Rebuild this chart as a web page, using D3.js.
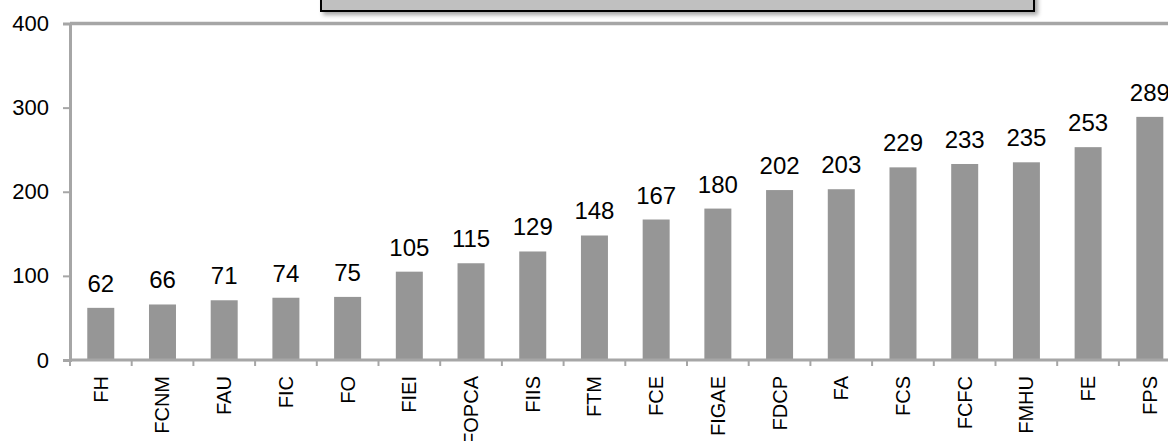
<!DOCTYPE html>
<html>
<head>
<meta charset="utf-8">
<script src="https://cdn.jsdelivr.net/npm/d3@7"></script>
<style>
  body { margin: 0; background: #fff; }
  svg { display: block; font-family: "Liberation Sans", Arial, sans-serif; }
</style>
</head>
<body>
<div id="chart-area"></div>
<script>
// data
const categories = ["FH", "FCNM", "FAU", "FIC", "FO", "FIEI", "FOPCA", "FIIS", "FTM", "FCE",
  "FIGAE", "FDCP", "FA", "FCS", "FCFC", "FMHU", "FE", "FPS"]
const values = [62, 66, 71, 74, 75, 105, 115, 129, 148, 167, 180, 202, 203, 229, 233, 235, 253, 289]
const yTicks = [0, 100, 200, 300, 400]

const W = 1168, H = 441
const LEFT = 70, TOP = 23.5, BOTTOM = 360
const STEP = 61.7

const svg = d3.select("#chart-area").append("svg")
  .attr("width", W)
  .attr("height", H)

const defs = svg.append("defs")
const shadow = defs.append("filter").attr("id", "shadow")
  .attr("x", "-5%").attr("y", "-50%").attr("width", "110%").attr("height", "250%")
shadow.append("feDropShadow")
  .attr("dx", 3).attr("dy", 3).attr("stdDeviation", 2)
  .attr("flood-color", "#000").attr("flood-opacity", 0.35)

// scales
const x = d3.scaleBand()
  .domain(categories)
  .range([LEFT, LEFT + STEP * categories.length])
  .paddingInner(0.5625)
  .paddingOuter(0.28)
const y = d3.scaleLinear().domain([0, 400]).range([BOTTOM, TOP])

// plot border (top)
svg.append("line")
  .attr("x1", LEFT).attr("x2", W)
  .attr("y1", TOP).attr("y2", TOP)
  .attr("stroke", "#a6a6a6").attr("stroke-width", 3.5)

// bars
svg.selectAll(".bar")
  .data(values)
  .enter().append("rect")
  .attr("class", "bar")
  .attr("x", (d, i) => x(categories[i]))
  .attr("width", x.bandwidth())
  .attr("y", d => y(d))
  .attr("height", d => y(0) - y(d))
  .attr("fill", "#969696")

// value labels
svg.selectAll(".val")
  .data(values)
  .enter().append("text")
  .attr("class", "val")
  .attr("x", (d, i) => x(categories[i]) + x.bandwidth() / 2)
  .attr("y", d => y(d) - 16)
  .attr("text-anchor", "middle")
  .attr("font-size", "24px")
  .attr("fill", "#000")
  .text(d => d)

// y axis
const yAxis = svg.append("g")
  .attr("transform", `translate(${LEFT}, 0)`)
  .call(d3.axisLeft(y).tickValues(yTicks).tickSize(7).tickPadding(14))
yAxis.select(".domain").attr("stroke", "#a6a6a6").attr("stroke-width", 3)
yAxis.selectAll(".tick line").attr("stroke", "#a6a6a6").attr("stroke-width", 2)
yAxis.selectAll(".tick text")
  .attr("font-size", "22px")
  .attr("fill", "#000")
  .attr("font-family", "Liberation Sans, Arial, sans-serif")

// x axis
const xAxis = svg.append("g")
  .attr("transform", `translate(0, ${BOTTOM})`)
xAxis.append("line")
  .attr("x1", LEFT).attr("x2", W)
  .attr("stroke", "#a6a6a6").attr("stroke-width", 3)
xAxis.selectAll(".xtick")
  .data(d3.range(categories.length + 1))
  .enter().append("line")
  .attr("class", "xtick")
  .attr("x1", i => LEFT + i * STEP).attr("x2", i => LEFT + i * STEP)
  .attr("y1", 0).attr("y2", 6)
  .attr("stroke", "#a6a6a6").attr("stroke-width", 2)
xAxis.selectAll(".cat")
  .data(categories)
  .enter().append("text")
  .attr("class", "cat")
  .attr("transform", d => `translate(${x(d) + x.bandwidth() / 2}, 16) rotate(-90)`)
  .attr("text-anchor", "end")
  .attr("dy", "0.35em")
  .attr("font-size", "20px")
  .attr("fill", "#000")
  .text(d => d)

// title box, cut off at the top of the picture
svg.append("rect")
  .attr("x", 321).attr("y", -30)
  .attr("width", 713).attr("height", 41)
  .attr("fill", "#c0c0c0")
  .attr("stroke", "#000").attr("stroke-width", 2)
  .attr("filter", "url(#shadow)")
</script>
</body>
</html>
